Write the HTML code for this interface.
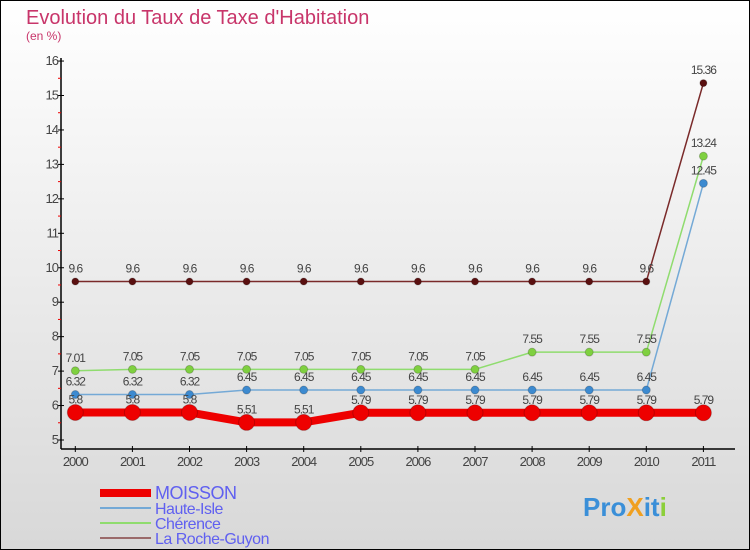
<!DOCTYPE html>
<html><head><meta charset="utf-8"><style>
body{margin:0}
#c{width:750px;height:550px;position:relative;box-sizing:border-box;border:1px solid #000;background:linear-gradient(#fff,#d8d8d8);font-family:"Liberation Sans",sans-serif;overflow:hidden}
</style></head><body>
<div id="c">
<svg id="s" width="750" height="550" style="position:absolute;left:-1px;top:-1px">
<text x="26" y="24" font-size="20" fill="#c8356a">Evolution du Taux de Taxe d'Habitation</text>
<text x="26" y="40" font-size="12" fill="#c8356a">(en %)</text>
</svg>
</div>
<script>
const years=["2000","2001","2002","2003","2004","2005","2006","2007","2008","2009","2010","2011"];
const moisson=[5.8,5.8,5.8,5.51,5.51,5.79,5.79,5.79,5.79,5.79,5.79,5.79];
const hauteIsle=[6.32,6.32,6.32,6.45,6.45,6.45,6.45,6.45,6.45,6.45,6.45,12.45];
const cherence=[7.01,7.05,7.05,7.05,7.05,7.05,7.05,7.05,7.55,7.55,7.55,13.24];
const rocheGuyon=[9.6,9.6,9.6,9.6,9.6,9.6,9.6,9.6,9.6,9.6,9.6,15.36];
const yTicks=[5,6,7,8,9,10,11,12,13,14,15,16];
const NS="http://www.w3.org/2000/svg",s=document.getElementById('s');
const X=i=>75.3+i*57.1, Y=v=>440-(v-5)*34.45;
function el(t,a,p){const e=document.createElementNS(NS,t);for(const k in a)e.setAttribute(k,a[k]);(p||s).appendChild(e);return e;}
let ax=el('line',{x1:61,y1:58,x2:61,y2:449,stroke:'#000','stroke-width':1.5});

let bx=el('line',{x1:61,y1:449,x2:735,y2:449,stroke:'#000','stroke-width':1.5});

yTicks.forEach(v=>{el('line',{x1:58,x2:64,y1:Y(v),y2:Y(v),stroke:'#000'});
 if(v<16)el('line',{x1:58,x2:61,y1:Y(v+0.5),y2:Y(v+0.5),stroke:'#e00'});
 const t=el('text',{x:58,y:Y(v)+4,'font-size':13,fill:'#444','text-anchor':'end','letter-spacing':'-1'});t.textContent=v;
 });
years.forEach((y,i)=>{el('line',{x1:X(i),x2:X(i),y1:446,y2:452,stroke:'#000'});
 const t=el('text',{x:X(i),y:466,'font-size':13,fill:'#444','text-anchor':'middle','letter-spacing':'-1'});t.textContent=y;
 });
const series=[
 {d:rocheGuyon,c:'#7a2a2a',w:1.5,r:3.5,fc:'#5a1010',n:'la-roche-guyon'},
 {d:cherence,c:'#8fdc6e',w:1.5,r:4,fc:'#7fd040',n:'cherence'},
 {d:hauteIsle,c:'#74a9d6',w:1.5,r:4,fc:'#3c8ad0',n:'haute-isle'},
 {d:moisson,c:'#e00',w:8,r:8,fc:'#e00',n:'moisson'}];
series.forEach(S=>{
 const p=el('polyline',{points:S.d.map((v,i)=>X(i)+','+Y(v)).join(' '),fill:'none',stroke:S.c,'stroke-width':S.w});
 
 S.d.forEach((v,i)=>{const c=el('circle',{cx:X(i),cy:Y(v),r:S.r,fill:S.fc,stroke:'rgba(0,0,0,0.2)'});
  
  const t=el('text',{x:X(i),y:Y(v)-9,'font-size':12,fill:'#444','text-anchor':'middle','letter-spacing':'-1'});t.textContent=v;
  });
});
const leg=[['MOISSON','#e00',8,18],['Haute-Isle','#74a9d6',2,16],['Chérence','#8fdc6e',2,16],['La Roche-Guyon','#9a6a6a',2,16]];
leg.forEach((L,i)=>{const y=493+i*15;
 const g=el('g',{});
 el('line',{x1:100,x2:151,y1:y,y2:y,stroke:L[1],'stroke-width':L[2]},g);
 const t=el('text',{x:155,y:y+6,'font-size':L[3],fill:'#6060f0','letter-spacing':'-0.5'},g);t.textContent=L[0];});
const lg=el('text',{x:583,y:516,'font-size':26,'font-weight':'bold',fill:'#3a8fd8'});

[['Pro','#3a8fd8'],['X','#f0a020'],['it','#3a8fd8'],['i','#8ccf3a']].forEach(p=>{const ts=el('tspan',{fill:p[1]},lg);ts.textContent=p[0];});
</script>
</body></html>
